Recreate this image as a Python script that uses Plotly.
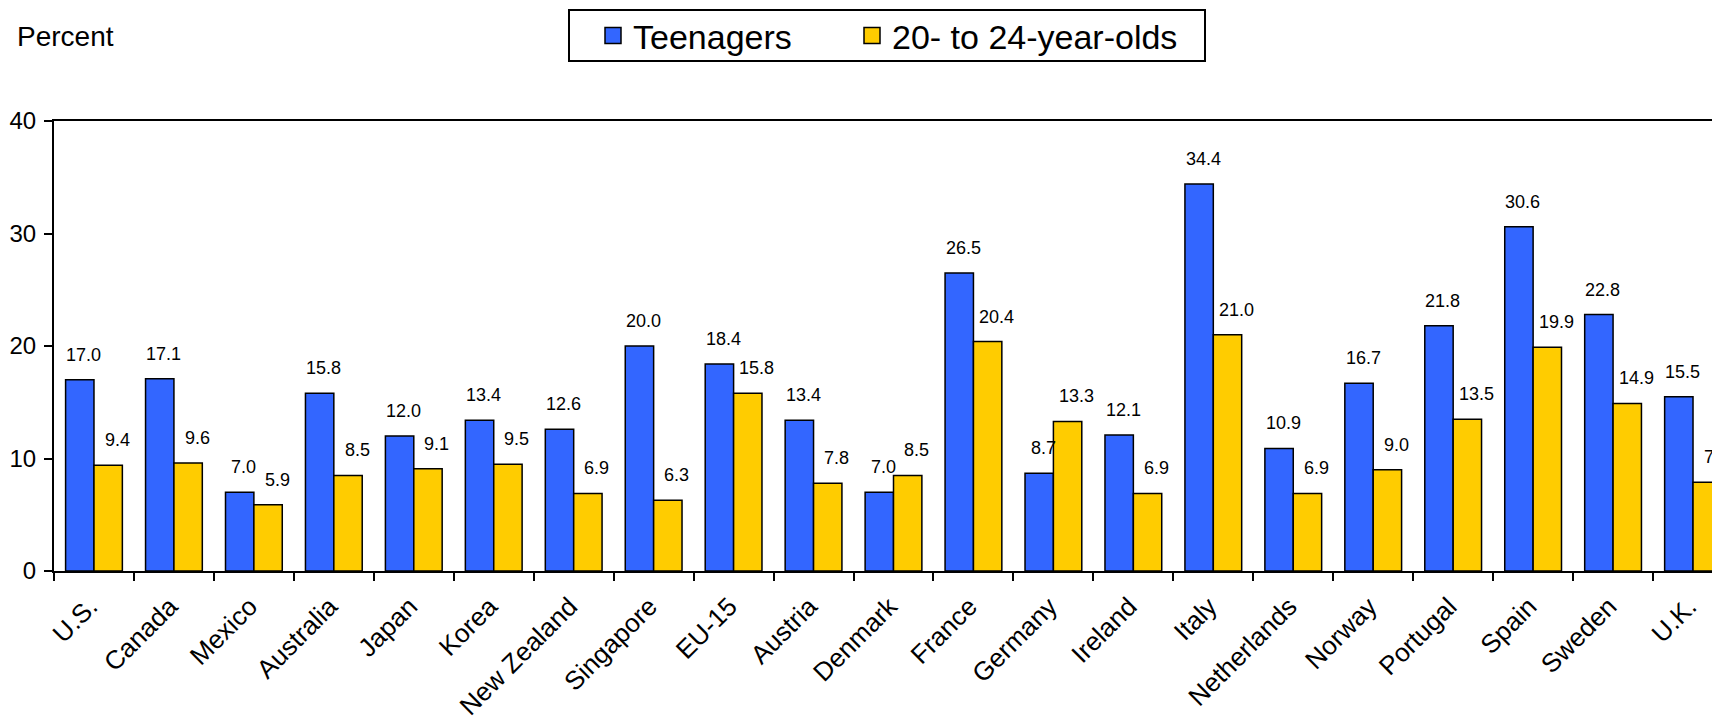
import plotly.graph_objects as go

countries = ["U.S.", "Canada", "Mexico", "Australia", "Japan", "Korea", "New Zealand",
             "Singapore", "EU-15", "Austria", "Denmark", "France", "Germany", "Ireland",
             "Italy", "Netherlands", "Norway", "Portugal", "Spain", "Sweden", "U.K."]
teenagers = [17.0, 17.1, 7.0, 15.8, 12.0, 13.4, 12.6, 20.0, 18.4, 13.4, 7.0, 26.5,
             8.7, 12.1, 34.4, 10.9, 16.7, 21.8, 30.6, 22.8, 15.5]
young_adults = [9.4, 9.6, 5.9, 8.5, 9.1, 9.5, 6.9, 6.3, 15.8, 7.8, 8.5, 20.4,
                13.3, 6.9, 21.0, 6.9, 9.0, 13.5, 19.9, 14.9, 7.9]
series_names = ["Teenagers", "20- to 24-year-olds"]
y_ticks = [0, 10, 20, 30, 40]

FONT = "Liberation Sans, Arial, sans-serif"
BLUE = "#3366FF"
YELLOW = "#FFCC00"
BARGAP = 0.29

# the page body has an 8px margin; lay the figure out in page pixels minus that
PAGE = 8
W, H = 1733 - PAGE, 720 - PAGE
ML, MR, MT = 54 - PAGE, 0, 121 - PAGE
MB = H - (571 - PAGE)
plot_w = W - ML - MR
plot_h = H - MT - MB


def px_x(p):  # page pixel -> paper x
    return (p - PAGE - ML) / plot_w


def px_y(p):  # page pixel -> paper y
    return 1 - (p - PAGE - MT) / plot_h


fig = go.Figure()
colors = [BLUE, YELLOW]
series = [teenagers, young_adults]
for k in range(2):
    fig.add_trace(go.Bar(
        x=countries, y=series[k], name=series_names[k], showlegend=False,
        marker=dict(color=colors[k], line=dict(color="black", width=1.5)),
    ))
# legend swatches (square markers, one legend each)
for k in range(2):
    fig.add_trace(go.Scatter(
        x=[None], y=[None], mode="markers", name=series_names[k],
        legend="legend" if k == 0 else "legend2",
        marker=dict(symbol="square", size=16, color=colors[k],
                    line=dict(color="black", width=1.5)),
    ))

# value labels above bars
off = (1 - BARGAP) / 4
for vals, sign, xs in [(teenagers, -1, 4), (young_adults, 1, 9)]:
    for i, v in enumerate(vals):
        fig.add_annotation(
            x=i + sign * off, y=v, xref="x", yref="y",
            text=f"{v:.1f}", showarrow=False, yanchor="bottom", xanchor="center",
            xshift=xs, yshift=13, font=dict(family=FONT, size=18, color="black"),
        )

# legend frame
fig.add_shape(type="rect", xref="paper", yref="paper",
              x0=px_x(569), x1=px_x(1205), y0=px_y(61), y1=px_y(10),
              line=dict(color="black", width=2), fillcolor="rgba(0,0,0,0)")

leg_common = dict(orientation="h", xanchor="left", yref="container", yanchor="middle",
                  y=1 - (36 - PAGE) / H, bgcolor="rgba(0,0,0,0)", borderwidth=0,
                  font=dict(family=FONT, size=34, color="black"))

fig.update_layout(
    width=W, height=H,
    margin=dict(l=ML, r=MR, t=MT, b=MB, pad=0),
    paper_bgcolor="white", plot_bgcolor="white",
    barmode="group", bargap=BARGAP, bargroupgap=0,
    font=dict(family=FONT, color="black"),
    title=dict(text="Percent", xref="container", yref="container",
               x=(17 - PAGE) / W, xanchor="left", y=1 - (36 - PAGE) / H, yanchor="middle",
               font=dict(family=FONT, size=28, color="black")),
    legend=dict(x=(593 - PAGE) / W, xref="container", **leg_common),
    legend2=dict(x=(852 - PAGE) / W, xref="container", **leg_common),
    showlegend=True,
)

fig.update_xaxes(
    type="category",
    showline=True, linecolor="black", linewidth=2, mirror=True,
    ticks="outside", tickson="boundaries", ticklen=8, tickwidth=2, tickcolor="black",
    tickangle=-45, tickfont=dict(family=FONT, size=26, color="black"),
    ticklabelstandoff=8, ticklabelshift=-4,
    showgrid=False, zeroline=False,
)
fig.update_yaxes(
    range=[0, 40], tickvals=y_ticks, showline=True, linecolor="black", linewidth=2,
    ticks="outside", ticklen=8, tickwidth=2, tickcolor="black",
    tickfont=dict(family=FONT, size=24, color="black"),
    showgrid=False, zeroline=False, ticklabelstandoff=3,
)

fig.write_html("out.html")
